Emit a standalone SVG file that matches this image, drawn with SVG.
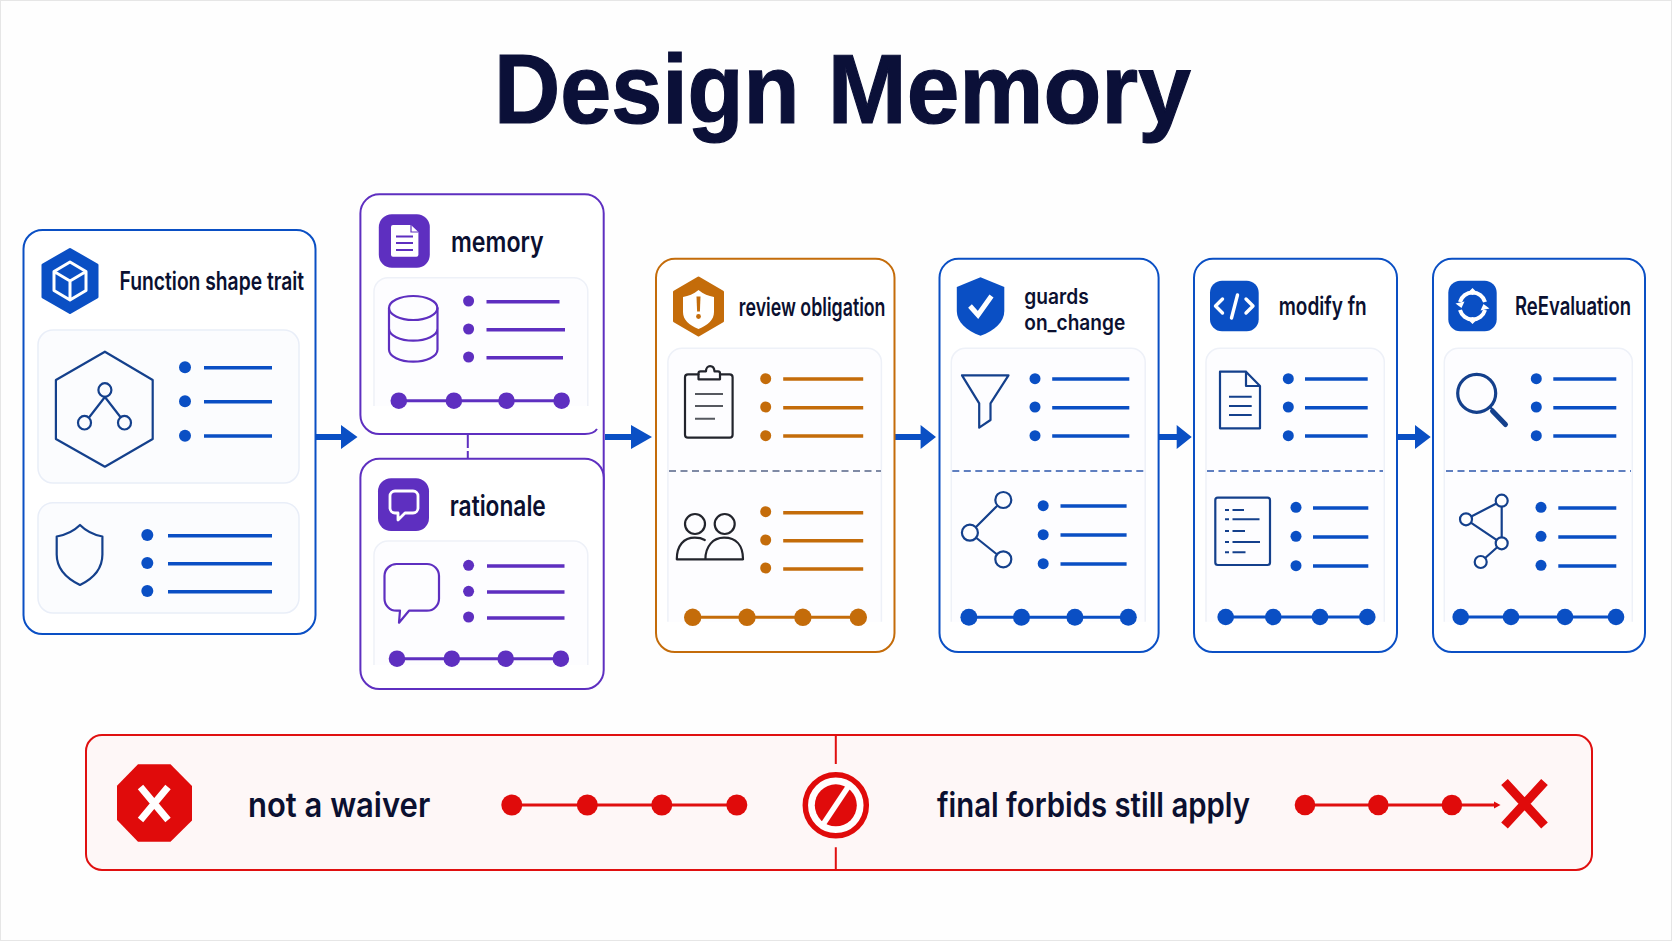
<svg xmlns="http://www.w3.org/2000/svg" width="1672" height="941" viewBox="0 0 1672 941">
<defs>
<style>
text{font-family:"Inter","Liberation Sans",Arial,sans-serif;font-weight:600;fill:#0b1030}
.head{font-family:"Liberation Sans",Arial,sans-serif;font-weight:700;font-size:98px;fill:#0b1038;stroke:#0b1038;stroke-width:1.2px}
.t21{font-size:21.500px}.t23{font-size:25px}.t26{font-size:28px}.t31{font-size:33.500px}
.card{fill:#fff;stroke-width:2}
.panel{fill:#fbfcfe;stroke:#e9eef8;stroke-width:1.5}
.open{fill:#fdfdff;stroke:#eef1f8;stroke-width:1.5}
.ln{fill:none;stroke-width:3.500}
.tl{fill:none;stroke-width:3}
.ic{fill:none;stroke-width:2.200;stroke-linejoin:round;stroke-linecap:round}
.blue{stroke:#0a4fc4}.blue-f{fill:#0a4fc4}
.pur{stroke:#5e2fc0}.pur-f{fill:#5e2fc0}
.org{stroke:#c46c0a}.org-f{fill:#c46c0a}
.red{stroke:#e01010}.red-f{fill:#e00b0b}
.navy{stroke:#14408c}.blk{stroke:#22242c}
.dash{fill:none;stroke-width:2;stroke-dasharray:7 4.500}
.arrow{fill:#0a4fc4}
</style>
</defs>
<rect width="1672" height="941" fill="#fefefe" stroke="#e6e6e6" stroke-width="2"/>
<text id="title" class="head" y="122.700"><tspan x="494" textLength="305.600" lengthAdjust="spacingAndGlyphs">Design</tspan> <tspan x="827.800" textLength="363" lengthAdjust="spacingAndGlyphs">Memory</tspan></text>

<g id="connectors">
<path class="arrow" d="M315.500 434h25.500v-9l16.500 12-16.500 12v-9h-25.500z"/>
<path class="arrow" d="M605 434h26v-9l21 12-21 12v-9h-26z"/>
<path class="arrow" d="M895 434h25.600v-9l15.400 12-15.400 12v-9h-25.600z"/>
<path class="arrow" d="M1159 434h17.700v-9l15 12-15 12v-9h-17.700z"/>
<path class="arrow" d="M1397.300 434h17.700v-9l15.700 12-15.700 12v-9h-17.700z"/>
<path fill="none" stroke="#5e2fc0" stroke-width="2" d="M467.800 434v14M467.800 451v8"/>
</g>

<g id="node-function-shape-trait">
<rect class="card blue" x="23.500" y="230" width="292" height="404" rx="19"/>
<path class="blue-f" d="M70 249.500l27 15.500v32l-27 15.500-27-15.500v-32z" stroke="#0a4fc4" stroke-width="3" stroke-linejoin="round"/>
<path fill="none" stroke="#fff" stroke-width="3" stroke-linejoin="round" d="M70 262l16 9.500v19l-16 9.500-16-9.500v-19zM54 271.500l16 9.500 16-9.500M70 281v19"/>
<text class="t23" x="119.600" y="290" textLength="184.500" lengthAdjust="spacingAndGlyphs">Function shape trait</text>
<rect class="panel" x="38" y="330" width="261" height="153" rx="15"/>
<path class="ic navy" d="M104.900 351.700l47.800 28.300v59l-47.800 27.700-49-27.700v-59z"/>
<path class="ic navy" d="M104.900 397l-15.500 20M104.900 397l15.500 20"/>
<ellipse class="ic navy" cx="104.900" cy="390" rx="6.500" ry="6.800"/>
<ellipse class="ic navy" cx="84.500" cy="422.700" rx="6.500" ry="6.800"/>
<ellipse class="ic navy" cx="124.500" cy="422.700" rx="6.500" ry="6.800"/>
<g class="blue-f"><circle cx="185" cy="367.300" r="6"/><circle cx="185" cy="401.300" r="6"/><circle cx="185" cy="435.700" r="6"/></g>
<path class="ln blue" d="M204 367.700h68M204 401.700h68M204 436h68"/>
<rect class="panel" x="38" y="502.700" width="261" height="110.300" rx="15"/>
<path class="ic navy" d="M80 525c7 7 14 10 22.400 11.500v18c0 14-9 24-22.400 30.500-13.400-6.500-23.300-16.500-23.300-30.500v-18c8.400-1.500 16.300-4.500 23.300-11.500z"/>
<g class="blue-f"><circle cx="147.300" cy="535" r="6"/><circle cx="147.300" cy="563" r="6"/><circle cx="147.300" cy="591" r="6"/></g>
<path class="ln blue" d="M168 535.700h104M168 563.700h104M168 591.700h104"/>
</g>

<g id="node-memory">
<rect x="360.400" y="194.300" width="243.300" height="239.700" rx="19" fill="#fff"/>
<path class="pur" fill="none" stroke-width="2" d="M597 429c-2 3-6 5-12 5H379.400a19 19 0 0 1-19-19V213.300a19 19 0 0 1 19-19h205.300a19 19 0 0 1 19 19V490"/>
<rect class="pur-f" x="378.800" y="214.300" width="51" height="53.400" rx="13"/>
<path fill="#fff" d="M393 225h18l7.400 7v22.700a2 2 0 0 1-2 2H393a2 2 0 0 1-2-2V227a2 2 0 0 1 2-2z"/>
<path fill="none" stroke="#5e2fc0" stroke-width="2.200" d="M396 236.500h17M396 243h17M396 250h17"/>
<path fill="none" stroke="#5e2fc0" stroke-width="1.200" d="M411 225v7h7.400"/>
<text class="t26" x="451" y="251.500" textLength="92.700" lengthAdjust="spacingAndGlyphs">memory</text>
<path class="open" d="M374 406V291.700a14 14 0 0 1 14-14h185.800a14 14 0 0 1 14 14V406"/>
<path class="ic pur" d="M389 308v41.500c0 7 11 12.200 24.200 12.200s24.300-5.200 24.300-12.200V308M389 328.500c0 7 11 12.200 24.200 12.200s24.300-5.200 24.300-12.200"/>
<ellipse class="ic pur" cx="413.200" cy="308" rx="24.200" ry="12"/>
<g class="pur-f"><circle cx="468.600" cy="301" r="5.500"/><circle cx="468.600" cy="329" r="5.500"/><circle cx="468.600" cy="357" r="5.500"/></g>
<path class="ln pur" d="M486.500 301.700h73M486.500 329.700h78.500M486.500 357.700h76.500"/>
<path class="tl pur" d="M398.800 400.700H561.600"/>
<g class="pur-f"><circle cx="398.800" cy="400.700" r="8.300"/><circle cx="453.900" cy="400.700" r="8.300"/><circle cx="506.500" cy="400.700" r="8.300"/><circle cx="561.600" cy="400.700" r="8.300"/></g>
</g>

<g id="node-rationale">
<rect x="360.400" y="458.700" width="243.300" height="230.300" rx="19" fill="#fff"/>
<path class="pur" fill="none" stroke-width="2" d="M603.700 477.700a19 19 0 0 0-19-19H379.400a19 19 0 0 0-19 19V670a19 19 0 0 0 19 19h205.300a19 19 0 0 0 19-19V477.700"/>
<rect class="pur-f" x="378" y="478.300" width="51" height="52.700" rx="13"/>
<path fill="none" stroke="#fff" stroke-width="2.800" stroke-linejoin="round" d="M395 491h18a5 5 0 0 1 5 5v12a5 5 0 0 1-5 5h-8l-7 7v-7h-3a5 5 0 0 1-5-5v-12a5 5 0 0 1 5-5z"/>
<text class="t26" x="449.800" y="515.800" textLength="96" lengthAdjust="spacingAndGlyphs">rationale</text>
<path class="open" d="M374 665V555a14 14 0 0 1 14-14h185.800a14 14 0 0 1 14 14V665"/>
<path class="ic pur" d="M397 564h30a12 12 0 0 1 12 12v22.700a12 12 0 0 1-12 12h-18l-10 12 1-12h-3.500a12 12 0 0 1-12-12V576a12 12 0 0 1 12.500-12z"/>
<g class="pur-f"><circle cx="468.600" cy="565.300" r="5.500"/><circle cx="468.600" cy="591.300" r="5.500"/><circle cx="468.600" cy="617" r="5.500"/></g>
<path class="ln pur" d="M487 566h77.500M487 592h77.500M487 618h77.500"/>
<path class="tl pur" d="M397 658.700H560.800"/>
<g class="pur-f"><circle cx="397" cy="658.700" r="8.300"/><circle cx="451.800" cy="658.700" r="8.300"/><circle cx="505.700" cy="658.700" r="8.300"/><circle cx="560.800" cy="658.700" r="8.300"/></g>
</g>

<g id="node-review-obligation">
<rect class="card org" x="656" y="258.800" width="238.500" height="393.200" rx="19"/>
<path class="org-f" stroke="#c46c0a" stroke-width="3" stroke-linejoin="round" d="M698.500 278l24 14v29l-24 14-24-14v-29z"/>
<path fill="#fff" d="M698.500 290c5 4 10 6 15.500 7v15c0 8-6 13-15.500 17-9.500-4-15.500-9-15.500-17v-15c5.500-1 10.500-3 15.500-7z"/>
<path class="org-f" d="M696.500 296.500h4l-.6 15h-2.800z"/><circle class="org-f" cx="698.500" cy="316.500" r="2.400"/>
<text class="t23" x="738.800" y="315.500" textLength="146.700" lengthAdjust="spacingAndGlyphs">review obligation</text>
<path class="open" d="M667.900 621.700V362.300a14 14 0 0 1 14-14h185.500a14 14 0 0 1 14 14V621.700"/>
<path class="ic blk" d="M698.500 374.300H688a3 3 0 0 0-3 3v57.400a3 3 0 0 0 3 3h41.600a3 3 0 0 0 3-3v-57.400a3 3 0 0 0-3-3H720"/>
<path class="ic blk" d="M698.500 379.300v-6a2 2 0 0 1 2-2h5.500c0-7 8-7 8.500 0h3.500a2 2 0 0 1 2 2v6z"/>
<path fill="none" stroke="#55585f" stroke-width="2" d="M695 394h28M695 406h28M695 418.700h20"/>
<g class="org-f"><circle cx="765.700" cy="378.700" r="5.500"/><circle cx="765.700" cy="407" r="5.500"/><circle cx="765.700" cy="435.700" r="5.500"/><circle cx="765.700" cy="511.700" r="5.500"/><circle cx="765.700" cy="540" r="5.500"/><circle cx="765.700" cy="568" r="5.500"/></g>
<path class="ln org" d="M783.200 379h80M783.200 407.700h80M783.200 436h80M783.200 512.700h80M783.200 540.700h80M783.200 569h80"/>
<path class="dash" stroke="#7f8aa5" d="M669 471h212"/>
<g class="ic blk"><circle cx="695" cy="524" r="10"/><circle cx="724.700" cy="524" r="10"/><path d="M705.400 559.300H676.800c0-14 7-21.600 18-21.600 4 0 7 .6 10 2.300M705.400 559.300H743c0-14-7-21.600-19-21.600-11 0-18.600 8.600-18.600 21.600z"/></g>
<path class="tl org" d="M692.700 617.300H858.300"/>
<g class="org-f"><circle cx="692.700" cy="617.300" r="8.700"/><circle cx="747" cy="617.300" r="8.700"/><circle cx="802.900" cy="617.300" r="8.700"/><circle cx="858.300" cy="617.300" r="8.700"/></g>
</g>

<g id="node-guards-on-change">
<rect class="card blue" x="939.500" y="258.800" width="219.100" height="393.200" rx="19"/>
<path class="blue-f" d="M980.500 277.300l23.800 9.700v24c0 11-9.500 19.700-23.800 24.700-14.300-5-23.700-13.700-23.700-24.700v-24z"/>
<path fill="none" stroke="#fff" stroke-width="5" d="M970 306l8 9 13.500-19"/>
<text class="t21"><tspan x="1024.300" y="303.500" textLength="64.400" lengthAdjust="spacingAndGlyphs">guards</tspan><tspan x="1024.300" y="329.500" textLength="100.900" lengthAdjust="spacingAndGlyphs">on_change</tspan></text>
<path class="open" d="M951.300 621.700V362.300a14 14 0 0 1 14-14h165.900a14 14 0 0 1 14 14V621.700"/>
<path class="ic navy" d="M962 375.300h46.500L990.500 403.300v16.700l-11.300 7.700v-24.400z"/>
<g class="blue-f"><circle cx="1035" cy="378.700" r="5.500"/><circle cx="1035" cy="407" r="5.500"/><circle cx="1035" cy="435.700" r="5.500"/><circle cx="1043.200" cy="505.700" r="5.500"/><circle cx="1043.200" cy="534.700" r="5.500"/><circle cx="1043.200" cy="563.700" r="5.500"/></g>
<path class="ln blue" d="M1052.200 379h77.100M1052.200 407.700h77.100M1052.200 436h77.100M1060.500 506h66.100M1060.500 535h66.100M1060.500 564h66.100"/>
<path class="dash" stroke="#5f7fc0" d="M952.300 471h192.200"/>
<path class="ic navy" d="M976.500 526.500l20-20M976.500 538l20 16"/>
<circle class="ic navy" cx="1003.300" cy="500" r="8"/><circle class="ic navy" cx="969.900" cy="532.700" r="8"/><circle class="ic navy" cx="1003.300" cy="559.300" r="8"/>
<path class="tl blue" d="M968.900 617.300H1128.300"/>
<g class="blue-f"><circle cx="968.900" cy="617.300" r="8.500"/><circle cx="1021.500" cy="617.300" r="8.500"/><circle cx="1074.900" cy="617.300" r="8.500"/><circle cx="1128.300" cy="617.300" r="8.500"/></g>
</g>

<g id="node-modify-fn">
<rect class="card blue" x="1194" y="258.800" width="203" height="393.200" rx="19"/>
<rect class="blue-f" x="1210" y="280.700" width="48.700" height="50.600" rx="12"/>
<path fill="none" stroke="#fff" stroke-width="3.400" stroke-linecap="round" stroke-linejoin="round" d="M1222.500 299l-7 7 7 7M1246 299l7 7-7 7M1237.500 295l-6 23"/>
<text class="t23" x="1278.700" y="315" textLength="88" lengthAdjust="spacingAndGlyphs">modify fn</text>
<path class="open" d="M1206 621.700V362.300a14 14 0 0 1 14-14h150.300a14 14 0 0 1 14 14V621.700"/>
<path class="ic navy" d="M1220 371.700h26l14 14.300v42.300h-40zM1246 371.700V386h14"/>
<path fill="none" stroke="#14408c" stroke-width="2" d="M1229 396.700h22.700M1229 406h22.700M1229 415h22.700"/>
<g class="blue-f"><circle cx="1288.300" cy="378.700" r="5.500"/><circle cx="1288.300" cy="407" r="5.500"/><circle cx="1288.300" cy="435.700" r="5.500"/><circle cx="1296" cy="507.300" r="5.500"/><circle cx="1296" cy="536.300" r="5.500"/><circle cx="1296" cy="565.700" r="5.500"/></g>
<path class="ln blue" d="M1305 379h62.700M1305 407.700h62.700M1305 436h62.700M1313 508h55.300M1313 537h55.300M1313 566h55.300"/>
<path class="dash" stroke="#5f7fc0" d="M1207 471h176"/>
<rect class="ic navy" x="1215.300" y="497.700" width="54.700" height="67.300" rx="2.500"/>
<path fill="none" stroke="#14408c" stroke-width="2" d="M1225 510h4M1232.500 510h11.500M1225 519.300h4M1232.500 519.300h27M1225 531h4M1232.500 531h12.500M1225 542h4M1232.500 542h27.500M1225 552.300h4M1232.500 552.300h13"/>
<path class="tl blue" d="M1225.700 617H1367.300"/>
<g class="blue-f"><circle cx="1225.700" cy="617" r="8.300"/><circle cx="1273.300" cy="617" r="8.300"/><circle cx="1320" cy="617" r="8.300"/><circle cx="1367.300" cy="617" r="8.300"/></g>
</g>

<g id="node-reevaluation">
<rect class="card blue" x="1433" y="258.800" width="212" height="393.200" rx="19"/>
<rect class="blue-f" x="1448.300" y="280.700" width="48.400" height="50.600" rx="12"/>
<g fill="none" stroke="#fff" stroke-width="4"><path d="M1460 302a13 13 0 0 1 25 0M1460 310a13 13 0 0 0 25 0"/></g>
<path fill="#fff" d="M1472.500 288l4.500 4.500-4.500 2.500-4.500-2.500zM1472.500 324l4.500-4.500-4.500-2.500-4.500 2.500zM1455.500 303.500l9-2-3 6.500zM1489.500 308.500l-9 2 3-6.500z"/>
<text class="t23" x="1515" y="314.500" textLength="116" lengthAdjust="spacingAndGlyphs">ReEvaluation</text>
<path class="open" d="M1444.300 621.700V362.300a14 14 0 0 1 14-14h160a14 14 0 0 1 14 14V621.700"/>
<circle fill="none" stroke="#14408c" stroke-width="3.200" cx="1476.700" cy="393.300" r="19"/>
<path fill="none" stroke="#14408c" stroke-width="2.400" d="M1490 407l3 3"/>
<path fill="none" stroke="#14408c" stroke-width="5" stroke-linecap="round" d="M1492.500 411l13 13.500"/>
<g class="blue-f"><circle cx="1536.300" cy="378.700" r="5.500"/><circle cx="1536.300" cy="407" r="5.500"/><circle cx="1536.300" cy="435.700" r="5.500"/><circle cx="1541" cy="507.300" r="5.500"/><circle cx="1541" cy="536.300" r="5.500"/><circle cx="1541" cy="565.300" r="5.500"/></g>
<path class="ln blue" d="M1553.300 379h63M1553.300 407.700h63M1553.300 436h63M1558.300 508h58M1558.300 537h58M1558.300 566h58"/>
<path class="dash" stroke="#5f7fc0" d="M1446 471h185"/>
<path class="ic navy" d="M1501.700 500.700L1466 519.300 1501.700 543.300zM1501.700 543.300L1480.700 562"/>
<circle class="ic navy" style="fill:#fff" cx="1501.700" cy="500.700" r="6"/><circle class="ic navy" style="fill:#fff" cx="1466" cy="519.300" r="6"/><circle class="ic navy" style="fill:#fff" cx="1501.700" cy="543.300" r="6"/><circle class="ic navy" style="fill:#fff" cx="1480.700" cy="562" r="6"/>
<path class="tl blue" d="M1460.700 617H1616"/>
<g class="blue-f"><circle cx="1460.700" cy="617" r="8.300"/><circle cx="1511" cy="617" r="8.300"/><circle cx="1565" cy="617" r="8.300"/><circle cx="1616" cy="617" r="8.300"/></g>
</g>

<g id="node-constraints">
<rect x="86" y="735" width="1506" height="135" rx="16" fill="#fef7f7" stroke="#e01010" stroke-width="2"/>
<path class="red-f" d="M138 764.300h32.500L192 786v34.500l-21.500 21.200H138L117 820v-34.300z"/>
<path fill="none" stroke="#fff" stroke-width="7" d="M140.500 787l27.500 33M168 787l-27.500 33"/>
<text class="t31" x="248" y="816.700" textLength="182.200" lengthAdjust="spacingAndGlyphs">not a waiver</text>
<path class="tl red" d="M511.800 805H736.800"/>
<g class="red-f"><circle cx="511.800" cy="805" r="10.500"/><circle cx="587.300" cy="805" r="10.500"/><circle cx="661.800" cy="805" r="10.500"/><circle cx="736.800" cy="805" r="10.500"/></g>
<path class="red" stroke-width="2" fill="none" d="M835.800 735v29M835.800 847.300V870"/>
<circle cx="835.800" cy="805.300" r="30.500" fill="#fff" stroke="#e00b0b" stroke-width="5.500"/>
<circle class="red-f" cx="835.800" cy="805.300" r="21"/>
<path stroke="#fff" stroke-width="5.500" d="M822 826l28-42"/>
<text class="t31" x="937" y="816.700" textLength="313" lengthAdjust="spacingAndGlyphs">final forbids still apply</text>
<path class="tl red" d="M1305 805H1497"/>
<path class="red-f" d="M1494 801.500l6.500 3.500-6.500 3.500z"/>
<g class="red-f"><circle cx="1305" cy="805" r="10.300"/><circle cx="1378.300" cy="805" r="10.300"/><circle cx="1451.900" cy="805" r="10.300"/></g>
<path fill="none" stroke="#e00b0b" stroke-width="9" d="M1504.500 782l40 43.500M1544.500 782l-40 43.500"/>
</g>
</svg>
